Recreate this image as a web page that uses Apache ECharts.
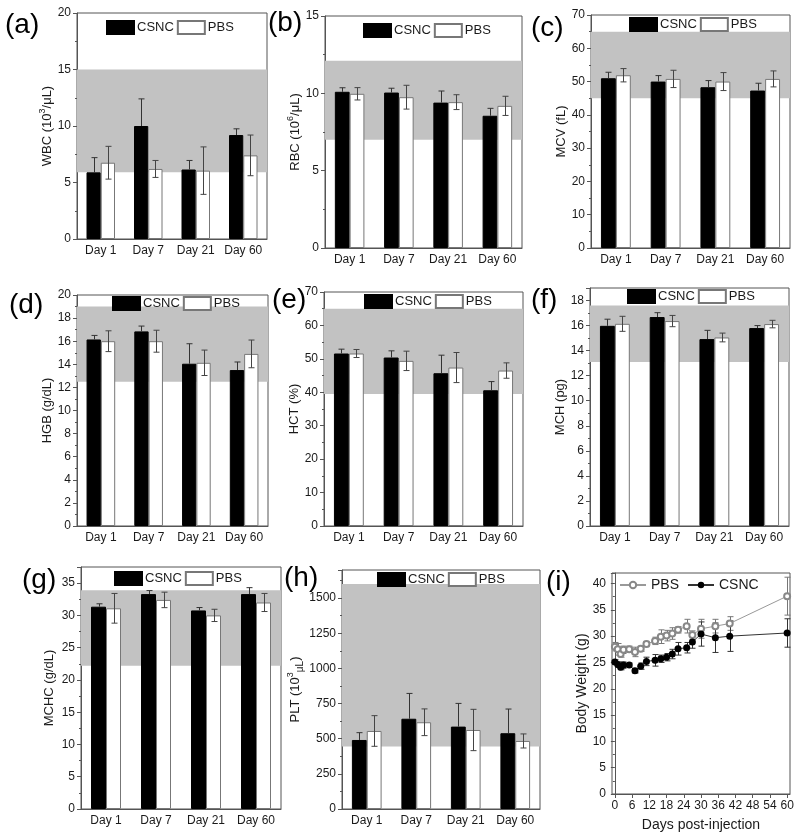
<!DOCTYPE html>
<html><head><meta charset="utf-8">
<script src="https://cdn.jsdelivr.net/npm/echarts@6/dist/echarts.min.js"></script>
<style>html,body{margin:0;padding:0;background:#fff}#c{width:800px;height:840px}</style>
</head><body><div id="c"></div>
<script>
// ---------------- DATA ----------------
const days = ['Day 1', 'Day 7', 'Day 21', 'Day 60'];

const wbcCSNC = [5.9, 10.0, 6.15, 9.2];
const wbcCSNCErr = [1.3, 2.4, 0.8, 0.55];
const wbcPBS = [6.75, 6.2, 6.05, 7.4];
const wbcPBSErr = [1.45, 0.75, 2.1, 1.8];
const wbcRange = [5.9, 15];

const rbcCSNC = [10.1, 10.05, 9.4, 8.55];
const rbcCSNCErr = [0.26, 0.28, 0.75, 0.48];
const rbcPBS = [9.97, 9.75, 9.43, 9.19];
const rbcPBSErr = [0.4, 0.77, 0.48, 0.62];
const rbcRange = [7.0, 12.1];

const mcvCSNC = [51.0, 50.0, 48.3, 47.3];
const mcvCSNCErr = [1.8, 1.8, 2.0, 2.2];
const mcvPBS = [51.9, 50.8, 50.0, 50.8];
const mcvPBSErr = [2.0, 2.6, 2.7, 2.4];
const mcvRange = [45, 65];

const hgbCSNC = [16.15, 16.85, 14.05, 13.5];
const hgbCSNCErr = [0.35, 0.46, 1.73, 0.7];
const hgbPBS = [16.0, 16.0, 14.13, 14.9];
const hgbPBSErr = [0.9, 0.95, 1.1, 1.2];
const hgbRange = [12.5, 19];

const hctCSNC = [51.6, 50.4, 45.7, 40.6];
const hctCSNCErr = [1.3, 2.0, 5.4, 2.6];
const hctPBS = [51.6, 49.4, 47.4, 46.5];
const hctPBSErr = [1.2, 2.9, 4.5, 2.3];
const hctRange = [39.5, 65];

const mchCSNC = [15.98, 16.68, 14.92, 15.8];
const mchCSNCErr = [0.53, 0.35, 0.7, 0.2];
const mchPBS = [16.14, 16.36, 15.05, 16.12];
const mchPBSErr = [0.6, 0.45, 0.35, 0.3];
const mchRange = [13.1, 17.6];

const mchcCSNC = [31.35, 33.3, 30.77, 33.3];
const mchcCSNCErr = [0.45, 0.55, 0.45, 1.0];
const mchcPBS = [31.1, 32.4, 30.0, 32.0];
const mchcPBSErr = [2.3, 1.2, 0.95, 1.4];
const mchcRange = [22.2, 33.9];

const pltCSNC = [491, 642, 586, 539];
const pltCSNCErr = [52, 180, 165, 172];
const pltPBS = [555, 617, 562, 484];
const pltPBSErr = [109, 95, 147, 50];
const pltRange = [445, 1600];

const bwDays = [0, 1, 2, 3, 5, 7, 9, 11, 14, 16, 18, 20, 22, 25, 27, 30, 35, 40, 60];
const bwPBS = [28.0, 27.5, 26.6, 27.4, 27.5, 27.0, 27.6, 28.5, 29.1, 29.9, 30.1, 30.5, 31.2, 31.9, 30.2, 31.4, 31.9, 32.4, 37.6];
const bwPBSErr = [0.8, 1.1, 0.6, 0.7, 0.6, 0.9, 0.5, 0.5, 0.7, 1.3, 1.0, 1.1, 0.6, 1.3, 0.8, 1.8, 1.3, 1.3, 3.6];
const bwCSNC = [25.1, 24.6, 24.1, 24.5, 24.5, 23.4, 24.3, 25.2, 25.4, 25.7, 26.0, 26.6, 27.6, 27.8, 28.9, 30.4, 29.7, 30.0, 30.6];
const bwCSNCErr = [0.4, 0.5, 0.5, 0.6, 0.4, 0.4, 0.6, 0.8, 1.1, 0.7, 0.7, 0.9, 1.2, 1.0, 1.2, 2.3, 2.8, 2.9, 2.7];
const bwXTicks = [0, 6, 12, 18, 24, 30, 36, 42, 48, 54, 60];

// ---------------- LAYOUT / STYLE ----------------
const FONT = 'Liberation Sans, Arial, sans-serif';
const AX = '#555';
const TXT = '#1a1a1a';
const BAND = '#c2c2c2';

const panels = [
  {lab:'(a)', lx:5, ly:11, g:[77,13,190,226], max:20, int:5, name:'{t|WBC (10}{s|3}{t|/μL)}', gap:21, leg:[106,20], c:wbcCSNC, ce:wbcCSNCErr, p:wbcPBS, pe:wbcPBSErr, r:wbcRange},
  {lab:'(b)', lx:268, ly:9, g:[325,16,197,232], max:15, int:5, name:'{t|RBC (10}{s|6}{t|/μL)}', gap:19, leg:[363,23], c:rbcCSNC, ce:rbcCSNCErr, p:rbcPBS, pe:rbcPBSErr, r:rbcRange},
  {lab:'(c)', lx:531, ly:14, g:[591,15,199,233], max:70, int:10, name:'MCV (fL)', gap:21, leg:[629,17], c:mcvCSNC, ce:mcvCSNCErr, p:mcvPBS, pe:mcvPBSErr, r:mcvRange},
  {lab:'(d)', lx:9, ly:291, g:[77,295,191,231], max:20, int:2, name:'HGB (g/dL)', gap:22, leg:[112,296], c:hgbCSNC, ce:hgbCSNCErr, p:hgbPBS, pe:hgbPBSErr, r:hgbRange},
  {lab:'(e)', lx:272, ly:286, g:[324,292,199,234], max:70, int:10, name:'HCT (%)', gap:13, leg:[364,294], c:hctCSNC, ce:hctCSNCErr, p:hctPBS, pe:hctPBSErr, r:hctRange},
  {lab:'(f)', lx:531, ly:286, g:[590,288,199,238], max:19, int:2, name:'MCH (pg)', gap:23, leg:[627,289], c:mchCSNC, ce:mchCSNCErr, p:mchPBS, pe:mchPBSErr, r:mchRange},
  {lab:'(g)', lx:22, ly:566, g:[81,567,200,242], max:37.5, int:5, name:'MCHC (g/dL)', gap:25, leg:[114,571], c:mchcCSNC, ce:mchcCSNCErr, p:mchcPBS, pe:mchcPBSErr, r:mchcRange},
  {lab:'(h)', lx:284, ly:564, g:[342,570,198,239], max:1700, int:250, name:'{t|PLT (10}{s|3}{u|μL}{t|)}', gap:32, leg:[377,572], c:pltCSNC, ce:pltCSNCErr, p:pltPBS, pe:pltPBSErr, r:pltRange}
];

const richName = {
  t: {fontSize: 13, fontFamily: FONT, color: TXT, lineHeight: 16, verticalAlign: 'bottom'},
  s: {fontSize: 9, fontFamily: FONT, color: TXT, lineHeight: 16, verticalAlign: 'top'},
  u: {fontSize: 10, fontFamily: FONT, color: TXT, lineHeight: 16, verticalAlign: 'bottom', padding: [0, 0, -3, 0]}
};

function errRenderer(side, lowerToo, color) {
  return function (params, api) {
    const x = api.value(0), v = api.value(1), e = api.value(2);
    const band = api.size ? api.size([1, 0])[0] : 0;
    const dx = side * band * 0.15;
    const top = api.coord([x, v + e]);
    const mid = api.coord([x, v]);
    const bot = api.coord([x, v - e]);
    const cx = Math.round(top[0] + dx) + 0.5;
    const cw = 3;
    const st = {stroke: color, lineWidth: 1};
    const ch = [
      {type: 'line', shape: {x1: cx, y1: top[1], x2: cx, y2: lowerToo ? bot[1] : mid[1]}, style: st},
      {type: 'line', shape: {x1: cx - cw, y1: top[1], x2: cx + cw, y2: top[1]}, style: st}
    ];
    if (lowerToo) ch.push({type: 'line', shape: {x1: cx - cw, y1: bot[1], x2: cx + cw, y2: bot[1]}, style: st});
    return {type: 'group', children: ch};
  };
}

const grid = [], xAxis = [], yAxis = [], series = [], legend = [], graphic = [];

panels.forEach((P, i) => {
  grid.push({left: P.g[0], top: P.g[1], width: P.g[2], height: P.g[3], show: true, borderColor: AX, borderWidth: 1, backgroundColor: 'transparent'});
  xAxis.push({
    type: 'category', gridIndex: i, data: days, boundaryGap: true,
    axisLine: {lineStyle: {color: AX}},
    axisTick: {alignWithLabel: true, length: 4, lineStyle: {color: AX}},
    axisLabel: {fontSize: 12, fontFamily: FONT, color: TXT, margin: 6, interval: 0, hideOverlap: false}
  });
  yAxis.push({
    type: 'value', gridIndex: i, min: 0, max: P.max, interval: P.int,
    name: P.name, nameLocation: 'middle', nameRotate: 90, nameGap: P.gap,
    nameTextStyle: {fontSize: 13, fontFamily: FONT, color: TXT, rich: richName},
    axisLine: {show: true, lineStyle: {color: AX}},
    axisTick: {show: true, length: 4, lineStyle: {color: AX}},
    minorTick: {show: true, splitNumber: 2, length: 2, lineStyle: {color: AX}},
    splitLine: {show: false},
    axisLabel: {fontSize: 12, fontFamily: FONT, color: TXT, margin: 6, showMaxLabel: (P.max % P.int === 0), formatter: v => String(v)}
  });
  series.push({
    type: 'line', name: 'band' + i, xAxisIndex: i, yAxisIndex: i, data: [], silent: true,
    markArea: {silent: true, itemStyle: {color: BAND}, data: [[{yAxis: P.r[0]}, {yAxis: P.r[1]}]]}
  });
  series.push({
    type: 'bar', name: 'CSNC', xAxisIndex: i, yAxisIndex: i, data: P.c, barWidth: '30%', barGap: '0%',
    itemStyle: {color: '#000', borderColor: '#000', borderWidth: 1}, z: 3, animation: false
  });
  series.push({
    type: 'bar', name: 'PBS', xAxisIndex: i, yAxisIndex: i, data: P.p, barWidth: '30%', barGap: '0%',
    itemStyle: {color: '#fff', borderColor: '#777', borderWidth: 1}, z: 3, animation: false
  });
  series.push({
    type: 'custom', name: 'errC' + i, xAxisIndex: i, yAxisIndex: i, z: 5, silent: true,
    renderItem: errRenderer(-1, false, '#333'),
    encode: {x: 0, y: 1},
    data: P.c.map((v, k) => [k, v, P.ce[k]])
  });
  series.push({
    type: 'custom', name: 'errP' + i, xAxisIndex: i, yAxisIndex: i, z: 5, silent: true,
    renderItem: errRenderer(1, true, '#444'),
    encode: {x: 0, y: 1},
    data: P.p.map((v, k) => [k, v, P.pe[k]])
  });
  legend.push({
    data: ['CSNC', 'PBS'], left: P.leg[0], top: P.leg[1], orient: 'horizontal',
    itemWidth: 27, itemHeight: 13, itemGap: 3, icon: 'rect', padding: 0, selectedMode: false,
    textStyle: {fontSize: 13, fontFamily: FONT, color: TXT, padding: [0, 0, 0, -2]}
  });
  graphic.push({type: 'text', left: P.lx, top: P.ly, style: {text: P.lab, font: '28px ' + FONT, fill: '#000'}});
});

// panel (i)
const gi = panels.length;
grid.push({left: 612, top: 573, width: 178, height: 221, show: true, borderColor: AX, borderWidth: 1});
xAxis.push({
  type: 'value', gridIndex: gi, min: -1, max: 61,
  name: 'Days post-injection', nameLocation: 'middle', nameGap: 24,
  nameTextStyle: {fontSize: 14, fontFamily: FONT, color: TXT},
  axisLine: {lineStyle: {color: AX}},
  axisTick: {length: 4, lineStyle: {color: AX}, customValues: bwXTicks},
  axisLabel: {fontSize: 12, fontFamily: FONT, color: TXT, margin: 6, customValues: bwXTicks},
  splitLine: {show: false}
});
yAxis.push({
  type: 'value', gridIndex: gi, min: 0, max: 42, interval: 5,
  name: 'Body Weight (g)', nameLocation: 'middle', nameRotate: 90, nameGap: 20,
  nameTextStyle: {fontSize: 14, fontFamily: FONT, color: TXT},
  axisLine: {show: true, lineStyle: {color: AX}},
  axisTick: {show: true, length: 4, lineStyle: {color: AX}},
  minorTick: {show: true, splitNumber: 2, length: 2, lineStyle: {color: AX}},
  splitLine: {show: false},
  axisLabel: {fontSize: 12, fontFamily: FONT, color: TXT, margin: 6, showMaxLabel: false}
});
function bwErr(color) {
  return function (params, api) {
    const x = api.value(0), v = api.value(1), e = api.value(2);
    const top = api.coord([x, v + e]);
    const bot = api.coord([x, v - e]);
    const cx = Math.round(top[0]) + 0.5, cw = 3;
    const st = {stroke: color, lineWidth: 1};
    return {type: 'group', children: [
      {type: 'line', shape: {x1: cx, y1: top[1], x2: cx, y2: bot[1]}, style: st},
      {type: 'line', shape: {x1: cx - cw, y1: top[1], x2: cx + cw, y2: top[1]}, style: st},
      {type: 'line', shape: {x1: cx - cw, y1: bot[1], x2: cx + cw, y2: bot[1]}, style: st}
    ]};
  };
}
series.push({
  type: 'custom', name: 'errPBSi', xAxisIndex: gi, yAxisIndex: gi, z: 3, silent: true,
  renderItem: bwErr('#777'), encode: {x: 0, y: 1},
  data: bwDays.map((d, k) => [d, bwPBS[k], bwPBSErr[k]])
});
series.push({
  type: 'custom', name: 'errCSNCi', xAxisIndex: gi, yAxisIndex: gi, z: 3, silent: true,
  renderItem: bwErr('#333'), encode: {x: 0, y: 1},
  data: bwDays.map((d, k) => [d, bwCSNC[k], bwCSNCErr[k]])
});
series.push({
  type: 'line', name: 'PBS_i', xAxisIndex: gi, yAxisIndex: gi, z: 4,
  data: bwDays.map((d, k) => [d, bwPBS[k]]),
  symbol: 'emptyCircle', symbolSize: 6, showAllSymbol: true,
  lineStyle: {color: '#999', width: 1}, itemStyle: {color: '#888', borderWidth: 1}
});
series.push({
  type: 'line', name: 'CSNC_i', xAxisIndex: gi, yAxisIndex: gi, z: 4,
  data: bwDays.map((d, k) => [d, bwCSNC[k]]),
  symbol: 'circle', symbolSize: 7, showAllSymbol: true,
  lineStyle: {color: '#333', width: 1}, itemStyle: {color: '#000'}
});
legend.push({
  data: ['PBS_i', 'CSNC_i'], left: 619, top: 578, itemWidth: 26, itemHeight: 8, itemGap: 8,
  padding: 0, selectedMode: false,
  formatter: n => n.replace('_i', ''),
  textStyle: {fontSize: 14, fontFamily: FONT, color: TXT}
});
graphic.push({type: 'text', left: 546, top: 568, style: {text: '(i)', font: '28px ' + FONT, fill: '#000'}});

const chart = echarts.init(document.getElementById('c'), null, {renderer: 'canvas'});
chart.setOption({
  animation: false,
  backgroundColor: '#fff',
  textStyle: {fontFamily: FONT},
  grid, xAxis, yAxis, series, legend, graphic
});
</script>
</body></html>
